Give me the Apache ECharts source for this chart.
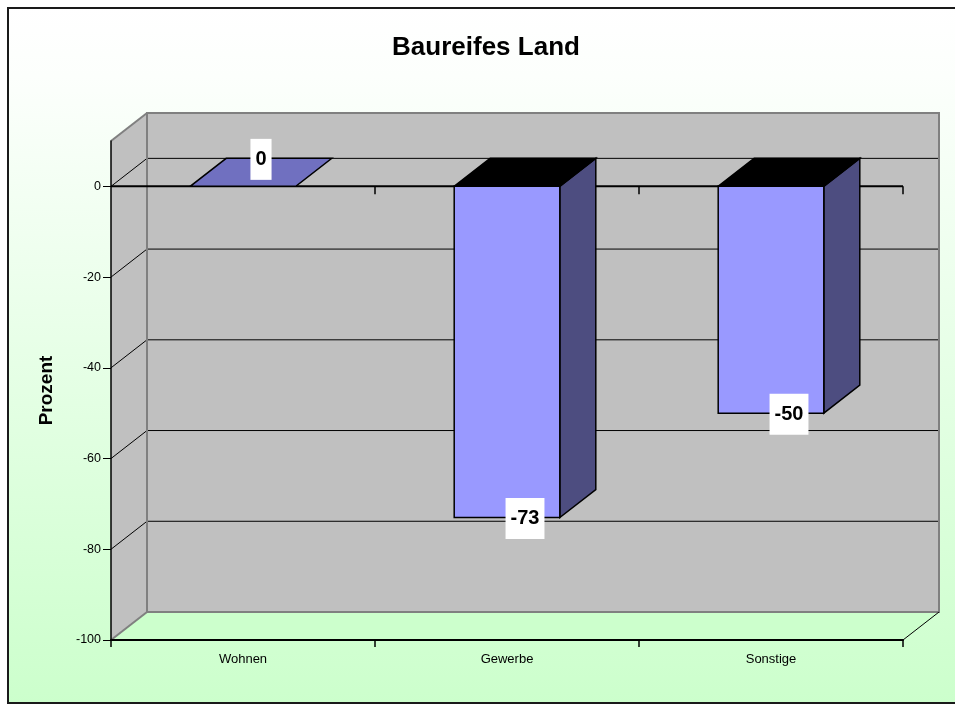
<!DOCTYPE html>
<html>
<head>
<meta charset="utf-8">
<title>Baureifes Land</title>
<script src="https://cdn.jsdelivr.net/npm/echarts@6/dist/echarts.min.js"></script>
<style>
  html, body { margin: 0; padding: 0; background: #ffffff; }
  #chart { width: 955px; height: 704px; }
</style>
</head>
<body>
<div id="chart"></div>
<script>
// Data
const categories = ['Wohnen', 'Gewerbe', 'Sonstige'];
const values = [0, -73, -50];
const yTicks = [-100, -80, -60, -40, -20, 0];
const yRange = [-100, 10];

// 3D look: depth offset of the back plane, in pixels
const DX = 36;
const DY = -28;
const FONT = "Arial, 'Liberation Sans', sans-serif";

const WALL = '#C0C0C0';
const WALL_EDGE = '#808080';
const FLOOR = '#CCFFCC';
const FRONT = '#9999FF';
const SIDE = '#4D4D80';
const TOP_FLAT = '#7070C0';

function line(x1, y1, x2, y2, stroke, lineWidth) {
  return { type: 'line', shape: { x1, y1, x2, y2 }, style: { stroke, lineWidth } };
}
function poly(points, fill, stroke, lineWidth) {
  return { type: 'polygon', shape: { points }, style: { fill, stroke: stroke || null, lineWidth: lineWidth || 0 } };
}

// Walls, floor and gridlines of the box
function renderWalls(params, api) {
  const band = api.size([1, 0])[0];
  const xL = api.coord([0, 0])[0] - band / 2;
  const xR = xL + band * categories.length;
  const yTop = api.coord([0, yRange[1]])[1];
  const yBot = api.coord([0, yRange[0]])[1];
  const y0 = api.coord([0, 0])[1];
  const c = [];
  // floor
  c.push(poly([[xL, yBot], [xR, yBot], [xR + DX, yBot + DY], [xL + DX, yBot + DY]], FLOOR));
  // side wall
  c.push(poly([[xL, yTop], [xL + DX, yTop + DY], [xL + DX, yBot + DY], [xL, yBot]], WALL));
  // back wall
  c.push({ type: 'rect', shape: { x: xL + DX, y: yTop + DY, width: xR - xL, height: yBot - yTop },
           style: { fill: WALL } });
  // gridlines on back and side walls
  yTicks.forEach(v => {
    if (v === yRange[0]) return;
    const y = api.coord([0, v])[1];
    c.push(line(xL + DX, y + DY, xR + DX, y + DY, '#000', 1));
    c.push(line(xL, y, xL + DX, y + DY, '#000', 1));
  });
  // wall edges
  c.push({ type: 'rect', shape: { x: xL + DX, y: yTop + DY, width: xR - xL, height: yBot - yTop },
           style: { fill: null, stroke: WALL_EDGE, lineWidth: 2 } });
  c.push(line(xL, yTop, xL + DX, yTop + DY, WALL_EDGE, 2));
  c.push(line(xL, yBot, xL + DX, yBot + DY, WALL_EDGE, 2));
  c.push(line(xR, yBot, xR + DX, yBot + DY, '#000', 1));
  // category line at zero with ticks
  c.push(line(xL, y0, xR, y0, '#000', 2));
  for (let k = 1; k <= categories.length; k++) {
    const x = xL + band * k;
    c.push(line(x, y0, x, y0 + 8, '#000', 1.5));
  }
  return { type: 'group', children: c };
}

// One 3D column per category
function renderBar(params, api) {
  const cat = api.value(0);
  const val = api.value(1);
  const band = api.size([1, 0])[0];
  const w = band * 0.4;
  const p0 = api.coord([cat, 0]);
  const cx = p0[0], y0 = p0[1];
  const yv = api.coord([cat, val])[1];
  const xl = cx - w / 2, xr = cx + w / 2;
  const c = [];
  const stroke = '#000';
  if (val !== 0) {
    c.push(poly([[xr, y0], [xr + DX, y0 + DY], [xr + DX, yv + DY], [xr, yv]], SIDE, stroke, 1.5));
    c.push(poly([[xl, y0], [xr, y0], [xr + DX, y0 + DY], [xl + DX, y0 + DY]], '#000', stroke, 1.5));
    c.push({ type: 'rect', shape: { x: xl, y: Math.min(y0, yv), width: w, height: Math.abs(yv - y0) },
             style: { fill: FRONT, stroke, lineWidth: 1.5 } });
  } else {
    c.push(poly([[xl, y0], [xr, y0], [xr + DX, y0 + DY], [xl + DX, y0 + DY]], TOP_FLAT, stroke, 1.5));
  }
  const ly = val < 0 ? yv + DY / 2 + 15 : y0 + DY / 2 - 13;
  c.push({
    type: 'text', x: cx + DX / 2, y: ly,
    style: {
      text: String(val), font: 'bold 20px ' + FONT, fill: '#000',
      backgroundColor: '#ffffff', padding: [10, 5], lineHeight: 21,
      align: 'center', verticalAlign: 'middle'
    }
  });
  return { type: 'group', children: c };
}

const chart = echarts.init(document.getElementById('chart'), null, { renderer: 'canvas' });
chart.setOption({
  backgroundColor: '#ffffff',
  animation: false,
  graphic: [{
    type: 'rect', z: -100, silent: true,
    shape: { x: 8, y: 8, width: 980, height: 695 },
    style: {
      fill: { type: 'linear', x: 0, y: 0, x2: 0, y2: 1,
              colorStops: [{ offset: 0, color: '#FFFFFF' }, { offset: 0.1, color: '#FCFFFC' }, { offset: 1, color: '#CCFFCC' }] },
      stroke: '#1a1a1a', lineWidth: 2
    }
  }],
  title: {
    text: 'Baureifes Land',
    left: 481, top: 30, textAlign: 'center',
    textStyle: { fontFamily: FONT, fontWeight: 'bold', fontSize: 26, color: '#000' }
  },
  grid: { left: 111, right: 52, top: 141, bottom: 64, containLabel: false },
  xAxis: {
    type: 'category',
    data: categories,
    z: 1,
    axisLine: { show: true, onZero: false, lineStyle: { color: '#000', width: 2 } },
    axisTick: { show: true, length: 7, lineStyle: { color: '#000', width: 1.5 } },
    axisLabel: { fontFamily: FONT, fontSize: 13, color: '#000', margin: 13 },
    splitLine: { show: false }
  },
  yAxis: {
    type: 'value',
    min: yRange[0], max: yRange[1], interval: 20,
    z: 1,
    name: 'Prozent',
    nameLocation: 'middle',
    nameRotate: 90,
    nameGap: 55,
    nameTextStyle: { fontFamily: FONT, fontWeight: 'bold', fontSize: 19, color: '#000' },
    axisLine: { show: true, lineStyle: { color: '#000', width: 1.5 } },
    axisTick: { show: true, length: 8, customValues: yTicks, lineStyle: { color: '#000' } },
    axisLabel: { customValues: yTicks, fontFamily: FONT, fontSize: 12.5, color: '#000', margin: 10 },
    splitLine: { show: false }
  },
  series: [
    {
      type: 'custom', z: -1, silent: true,
      renderItem: renderWalls,
      encode: { x: 0, y: 1 },
      data: [[0, 0]]
    },
    {
      type: 'custom', z: 5, silent: true,
      renderItem: renderBar,
      encode: { x: 0, y: 1 },
      data: categories.map((c, i) => [i, values[i]])
    }
  ]
});
</script>
</body>
</html>
